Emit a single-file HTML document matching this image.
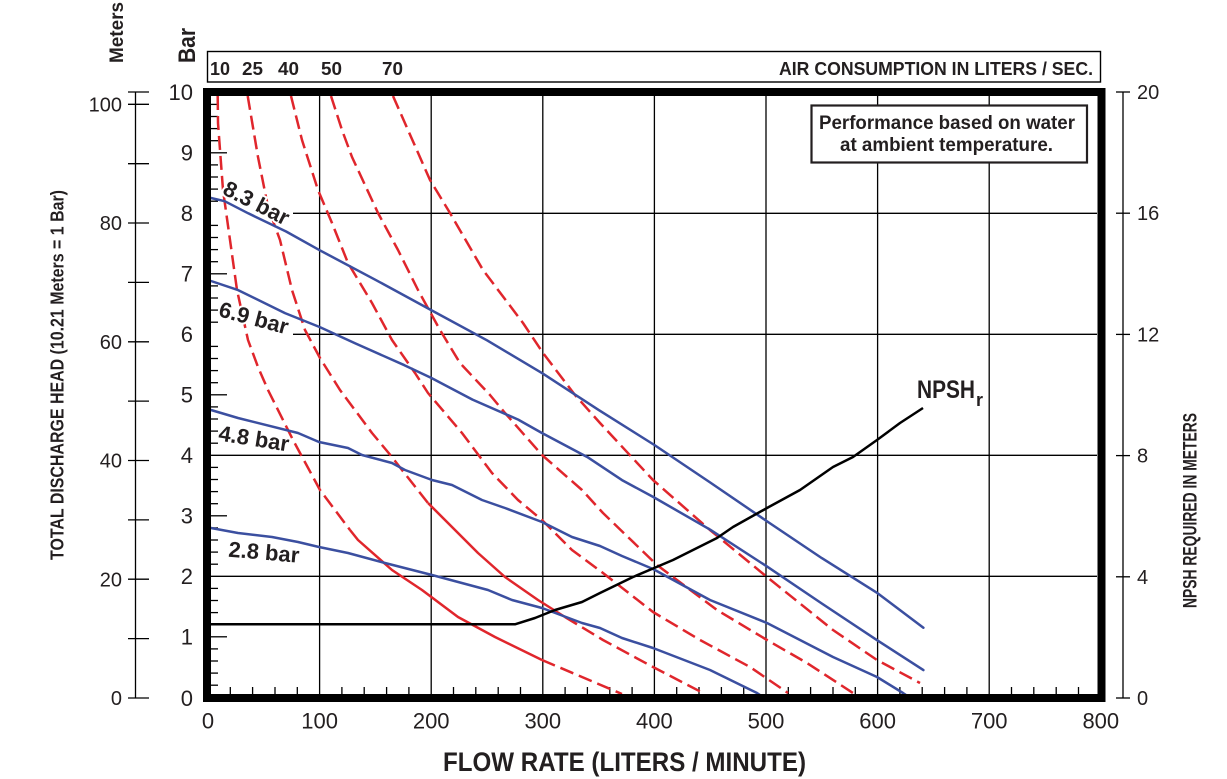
<!DOCTYPE html>
<html>
<head>
<meta charset="utf-8">
<style>
  html,body{margin:0;padding:0;background:#fff;}
  svg{display:block;}
  text{font-family:"Liberation Sans", Arial, sans-serif; fill:#231f20;}
  .b{font-weight:bold;}
</style>
</head>
<body>
<svg width="1227" height="779" viewBox="0 0 1227 779" xmlns="http://www.w3.org/2000/svg">
  <rect width="1227" height="779" fill="#fff"/>

  <!-- Top air consumption box -->
  <rect x="207.5" y="51.5" width="893" height="30.5" fill="#fff" stroke="#000" stroke-width="1.4"/>
  <text class="b" x="210" y="75" font-size="18" textLength="20" lengthAdjust="spacingAndGlyphs">10</text>
  <text class="b" x="242" y="75" font-size="18" textLength="21" lengthAdjust="spacingAndGlyphs">25</text>
  <text class="b" x="278" y="75" font-size="18" textLength="21" lengthAdjust="spacingAndGlyphs">40</text>
  <text class="b" x="321" y="75" font-size="18" textLength="21" lengthAdjust="spacingAndGlyphs">50</text>
  <text class="b" x="382" y="75" font-size="18" textLength="21" lengthAdjust="spacingAndGlyphs">70</text>
  <text class="b" x="779" y="75" font-size="18" textLength="314" lengthAdjust="spacingAndGlyphs">AIR CONSUMPTION IN LITERS / SEC.</text>

  <!-- Axis titles (rotated) -->
  <text class="b" transform="translate(123,32.5) rotate(-90)" text-anchor="middle" font-size="19" textLength="61" lengthAdjust="spacingAndGlyphs">Meters</text>
  <text class="b" transform="translate(195,45.5) rotate(-90)" text-anchor="middle" font-size="24" textLength="35" lengthAdjust="spacingAndGlyphs">Bar</text>
  <text class="b" transform="translate(63.5,375) rotate(-90)" text-anchor="middle" font-size="18" textLength="370" lengthAdjust="spacingAndGlyphs">TOTAL DISCHARGE HEAD (10.21 Meters = 1 Bar)</text>
  <text class="b" transform="translate(1196.5,510.5) rotate(-90)" text-anchor="middle" font-size="19" textLength="195" lengthAdjust="spacingAndGlyphs">NPSH REQUIRED IN METERS</text>
  <text class="b" x="443" y="771" font-size="27" textLength="363" lengthAdjust="spacingAndGlyphs">FLOW RATE (LITERS / MINUTE)</text>

  <!-- Meters axis -->
  <g stroke="#000" stroke-width="1.3">
    <line x1="135.5" y1="92" x2="135.5" y2="698"/>
    <line x1="128" y1="92" x2="149" y2="92"/>
    <line x1="128" y1="104.3" x2="149" y2="104.3"/>
    <line x1="128" y1="163.7" x2="149" y2="163.7"/>
    <line x1="128" y1="223" x2="149" y2="223"/>
    <line x1="128" y1="282.4" x2="149" y2="282.4"/>
    <line x1="128" y1="341.8" x2="149" y2="341.8"/>
    <line x1="128" y1="401.1" x2="149" y2="401.1"/>
    <line x1="128" y1="460.5" x2="149" y2="460.5"/>
    <line x1="128" y1="519.9" x2="149" y2="519.9"/>
    <line x1="128" y1="579.2" x2="149" y2="579.2"/>
    <line x1="128" y1="638.6" x2="149" y2="638.6"/>
    <line x1="128" y1="698" x2="149" y2="698"/>
  </g>
  <g font-size="20" text-anchor="end">
    <text x="122" y="111.5">100</text>
    <text x="122" y="230.2">80</text>
    <text x="122" y="349">60</text>
    <text x="122" y="467.7">40</text>
    <text x="122" y="586.4">20</text>
    <text x="122" y="705.2">0</text>
  </g>

  <!-- Bar labels -->
  <g font-size="22" text-anchor="end">
    <text x="193" y="100">10</text>
    <text x="193" y="160.5">9</text>
    <text x="193" y="221">8</text>
    <text x="193" y="281.5">7</text>
    <text x="193" y="342">6</text>
    <text x="193" y="402.5">5</text>
    <text x="193" y="463">4</text>
    <text x="193" y="523.5">3</text>
    <text x="193" y="584">2</text>
    <text x="193" y="644.5">1</text>
    <text x="193" y="706">0</text>
  </g>

  <!-- Right NPSH axis -->
  <g stroke="#000" stroke-width="1.3">
    <line x1="1123" y1="92" x2="1123" y2="698"/>
    <line x1="1116" y1="92" x2="1130" y2="92"/>
    <line x1="1116" y1="213.2" x2="1130" y2="213.2"/>
    <line x1="1116" y1="334.4" x2="1130" y2="334.4"/>
    <line x1="1116" y1="455.6" x2="1130" y2="455.6"/>
    <line x1="1116" y1="576.8" x2="1130" y2="576.8"/>
    <line x1="1116" y1="698" x2="1130" y2="698"/>
  </g>
  <g font-size="20">
    <text x="1137" y="99">20</text>
    <text x="1137" y="220.2">16</text>
    <text x="1137" y="341.4">12</text>
    <text x="1137" y="462.6">8</text>
    <text x="1137" y="583.8">4</text>
    <text x="1137" y="705">0</text>
  </g>

  <!-- Bottom labels -->
  <g font-size="22" text-anchor="middle">
    <text x="208" y="728.5">0</text>
    <text x="319.6" y="728.5">100</text>
    <text x="431.2" y="728.5">200</text>
    <text x="542.8" y="728.5">300</text>
    <text x="654.4" y="728.5">400</text>
    <text x="766" y="728.5">500</text>
    <text x="877.6" y="728.5">600</text>
    <text x="989.2" y="728.5">700</text>
    <text x="1100.8" y="728.5">800</text>
  </g>

  <!-- Gridlines -->
  <g stroke="#000" stroke-width="1.3">
    <line x1="319.6" y1="96" x2="319.6" y2="694"/>
    <line x1="431.2" y1="96" x2="431.2" y2="694"/>
    <line x1="542.8" y1="96" x2="542.8" y2="694"/>
    <line x1="654.4" y1="96" x2="654.4" y2="694"/>
    <line x1="766" y1="96" x2="766" y2="694"/>
    <line x1="877.6" y1="96" x2="877.6" y2="694"/>
    <line x1="989.2" y1="96" x2="989.2" y2="694"/>
    <line x1="293" y1="213.3" x2="1097" y2="213.3"/>
    <line x1="293" y1="334.3" x2="1097" y2="334.3"/>
    <line x1="211" y1="455.3" x2="1097" y2="455.3"/>
    <line x1="211" y1="576.3" x2="1097" y2="576.3"/>
  </g>

  <!-- Left inner ticks (every 0.2 bar) -->
  <g stroke="#000" stroke-width="1.3">
    <line x1="211" y1="685.2" x2="218" y2="685.2"/><line x1="211" y1="673.1" x2="218" y2="673.1"/><line x1="211" y1="661" x2="218" y2="661"/><line x1="211" y1="648.9" x2="218" y2="648.9"/>
    <line x1="211" y1="636.8" x2="227" y2="636.8"/>
    <line x1="211" y1="624.7" x2="218" y2="624.7"/><line x1="211" y1="612.6" x2="218" y2="612.6"/><line x1="211" y1="600.5" x2="218" y2="600.5"/><line x1="211" y1="588.4" x2="218" y2="588.4"/>
    <line x1="211" y1="564.2" x2="218" y2="564.2"/><line x1="211" y1="552.1" x2="218" y2="552.1"/><line x1="211" y1="540" x2="218" y2="540"/><line x1="211" y1="527.9" x2="218" y2="527.9"/>
    <line x1="211" y1="515.8" x2="227" y2="515.8"/>
    <line x1="211" y1="503.7" x2="218" y2="503.7"/><line x1="211" y1="491.6" x2="218" y2="491.6"/><line x1="211" y1="479.5" x2="218" y2="479.5"/><line x1="211" y1="467.4" x2="218" y2="467.4"/>
    <line x1="211" y1="443.2" x2="218" y2="443.2"/><line x1="211" y1="431.1" x2="218" y2="431.1"/><line x1="211" y1="419" x2="218" y2="419"/><line x1="211" y1="406.9" x2="218" y2="406.9"/>
    <line x1="211" y1="394.8" x2="227" y2="394.8"/>
    <line x1="211" y1="382.7" x2="218" y2="382.7"/><line x1="211" y1="370.6" x2="218" y2="370.6"/><line x1="211" y1="358.5" x2="218" y2="358.5"/><line x1="211" y1="346.4" x2="218" y2="346.4"/>
    <line x1="211" y1="322.2" x2="218" y2="322.2"/><line x1="211" y1="310.1" x2="218" y2="310.1"/><line x1="211" y1="298" x2="218" y2="298"/><line x1="211" y1="285.9" x2="218" y2="285.9"/>
    <line x1="211" y1="273.8" x2="227" y2="273.8"/>
    <line x1="211" y1="261.7" x2="218" y2="261.7"/><line x1="211" y1="249.6" x2="218" y2="249.6"/><line x1="211" y1="237.5" x2="218" y2="237.5"/><line x1="211" y1="225.4" x2="218" y2="225.4"/>
    <line x1="211" y1="201.2" x2="218" y2="201.2"/><line x1="211" y1="189.1" x2="218" y2="189.1"/><line x1="211" y1="177" x2="218" y2="177"/><line x1="211" y1="164.9" x2="218" y2="164.9"/>
    <line x1="211" y1="152.8" x2="227" y2="152.8"/>
    <line x1="211" y1="140.7" x2="218" y2="140.7"/><line x1="211" y1="128.6" x2="218" y2="128.6"/><line x1="211" y1="116.5" x2="218" y2="116.5"/><line x1="211" y1="104.4" x2="218" y2="104.4"/>
  </g>

  <!-- Bottom inner ticks (every 20 LPM) -->
  <g stroke="#000" stroke-width="1.3">
    <line x1="230.3" y1="687" x2="230.3" y2="694"/><line x1="252.6" y1="687" x2="252.6" y2="694"/><line x1="275" y1="687" x2="275" y2="694"/><line x1="297.3" y1="687" x2="297.3" y2="694"/>
    <line x1="341.9" y1="687" x2="341.9" y2="694"/><line x1="364.2" y1="687" x2="364.2" y2="694"/><line x1="386.6" y1="687" x2="386.6" y2="694"/><line x1="408.9" y1="687" x2="408.9" y2="694"/>
    <line x1="453.5" y1="687" x2="453.5" y2="694"/><line x1="475.8" y1="687" x2="475.8" y2="694"/><line x1="498.2" y1="687" x2="498.2" y2="694"/><line x1="520.5" y1="687" x2="520.5" y2="694"/>
    <line x1="565.1" y1="687" x2="565.1" y2="694"/><line x1="587.4" y1="687" x2="587.4" y2="694"/><line x1="609.8" y1="687" x2="609.8" y2="694"/><line x1="632.1" y1="687" x2="632.1" y2="694"/>
    <line x1="676.7" y1="687" x2="676.7" y2="694"/><line x1="699" y1="687" x2="699" y2="694"/><line x1="721.4" y1="687" x2="721.4" y2="694"/><line x1="743.7" y1="687" x2="743.7" y2="694"/>
    <line x1="788.3" y1="687" x2="788.3" y2="694"/><line x1="810.6" y1="687" x2="810.6" y2="694"/><line x1="833" y1="687" x2="833" y2="694"/><line x1="855.3" y1="687" x2="855.3" y2="694"/>
    <line x1="899.9" y1="687" x2="899.9" y2="694"/><line x1="922.2" y1="687" x2="922.2" y2="694"/><line x1="944.6" y1="687" x2="944.6" y2="694"/><line x1="966.9" y1="687" x2="966.9" y2="694"/>
    <line x1="1011.5" y1="687" x2="1011.5" y2="694"/><line x1="1033.8" y1="687" x2="1033.8" y2="694"/><line x1="1056.2" y1="687" x2="1056.2" y2="694"/><line x1="1078.5" y1="687" x2="1078.5" y2="694"/>
  </g>

  <!-- Info box -->
  <rect x="811.5" y="105.5" width="275.5" height="57" fill="#fff" stroke="#231f20" stroke-width="2.2"/>
  <text class="b" x="819" y="129" font-size="19" textLength="256" lengthAdjust="spacingAndGlyphs">Performance based on water</text>
  <text class="b" x="840" y="151" font-size="19" textLength="213" lengthAdjust="spacingAndGlyphs">at ambient temperature.</text>

  <!-- Red air consumption curves -->
  <g fill="none" stroke="#e0262c" stroke-width="2.5" stroke-linejoin="round">
    <!-- 10 -->
    <polyline stroke-dasharray="14 6" points="217.7,96 218,123 223,190 230,240 237,290 248,340 258,367 268,390 293,440 320,490 350,530"/>
    <polyline points="350,530 358,540 392,570 422,590 458,617 495,637 542,660"/>
    <polyline stroke-dasharray="14 6" points="542,660 582,677 622,694"/>
    <!-- 25 -->
    <polyline stroke-dasharray="14 6" points="247.7,96 258,157 268,207 280,240 292,290 305,330 320,358 340,390 372,433 392,457 402,470 428,503"/>
    <polyline points="428,503 455,530 478,553 505,577 538,600 565,617"/>
    <polyline stroke-dasharray="14 6" points="565,617 603,640 653,667 705,694"/>
    <!-- 40 -->
    <polyline stroke-dasharray="14 6" points="291,96 302,140 318,190 332,223 348,263 372,303 392,340 415,373 428,393 462,433 492,473 518,500 542,520 572,550 603,573 653,612 700,640 750,667 788,693"/>
    <!-- 50 -->
    <polyline stroke-dasharray="14 6" points="331,96 342,130 352,157 378,213 398,250 418,290 440,330 460,363 490,395 505,413 542,455 582,490 603,513 657,565 717,610 767,640 807,663 853,693"/>
    <!-- 70 -->
    <polyline stroke-dasharray="14 6" points="393,96 430,180 450,213 483,270 523,323 543,353 575,395 600,423 653,480 710,530 767,577 833,630 877,660 920,683"/>
  </g>

  <!-- Blue pressure curves -->
  <g fill="none" stroke="#3b4fa0" stroke-width="2.5" stroke-linejoin="round" stroke-linecap="round">
    <polyline points="211,198 224.7,201.2 248.2,213.3 286.1,231.5 319.6,250.2 375.4,279.8 431.2,310.1 487,340.3 542.8,373.6 598.6,409.9 654.4,445 710.2,482.5 766,520.6 821.8,558.1 877.6,593.2 923.4,627.7"/>
    <polyline points="211,281 238.1,290.1 285,313.1 319.6,327 355.3,343.4 404.4,365.2 431.2,377.9 472.5,399.6 518.2,419.6 541.7,432.9 587.4,457.1 622,480.1 653.3,497 710.2,529.7 767.1,566.6 821.8,603.5 876.5,639.8 923.4,670.1"/>
    <polyline points="211,410 238,418 298,433 319,442 348,448 362,455 392,463 405,470 432,480 452,485 482,500 505,508 542,522 572,537 600,546 622,556 653,569 710,600 767,623 833,657 877,677 903,693 906,695"/>
    <polyline points="211,528 238,533 272,537 298,542 319,547 348,553 385,563 432,575 488,590 512,600 542,608 582,623 600,628 622,638 653,648 710,670 757,693 760,695"/>
  </g>

  <!-- NPSHr curve -->
  <polyline fill="none" stroke="#000" stroke-width="2.5" stroke-linejoin="round" points="211,624.3 515,624.3 535,618 555,610 582,602 600,593 633,577 673,560 717,538 733,527 767,508 800,490 833,467 853,457 877,440 900,423 923,408"/>
  <text class="b" x="917" y="398" font-size="25" textLength="58" lengthAdjust="spacingAndGlyphs">NPSH</text>
  <text class="b" x="976" y="406" font-size="18">r</text>

  <!-- Pressure labels -->
  <g font-size="22" font-weight="bold" text-anchor="middle" stroke="#fff" stroke-width="4" paint-order="stroke" style="fill:#231f20">
    <text transform="translate(256.7,202.5) rotate(27)" x="0" y="8">8.3 bar</text>
    <text transform="translate(254,317.5) rotate(15)" x="0" y="8">6.9 bar</text>
    <text transform="translate(254,438) rotate(9)" x="0" y="8">4.8 bar</text>
    <text transform="translate(264,551.7) rotate(5)" x="0" y="8">2.8 bar</text>
  </g>

  <!-- Plot border -->
  <rect x="207" y="92" width="894.5" height="606" fill="none" stroke="#000" stroke-width="8"/>
</svg>
</body>
</html>
